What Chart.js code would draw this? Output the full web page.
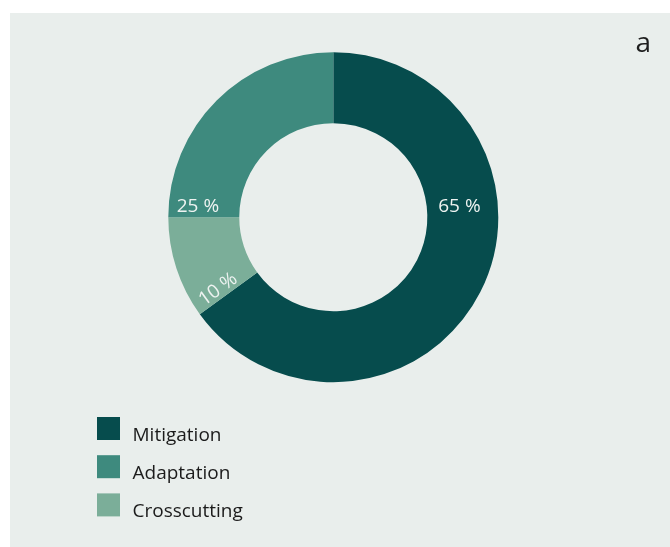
<!DOCTYPE html>
<html>
<head>
<meta charset="utf-8">
<script src="https://cdn.jsdelivr.net/npm/chart.js@4.4.0/dist/chart.umd.min.js"></script>
<style>
  html, body { margin: 0; padding: 0; background: #ffffff; }
  canvas { display: block; }
</style>
</head>
<body>
<canvas id="c" width="670" height="547"></canvas>
<script>
// Share of climate finance by theme (percent)
const categories = ['Mitigation', 'Adaptation', 'Crosscutting'];
const shares = [65, 25, 10];
const colours = ['#064c4d', '#3e8a7e', '#7bae99'];
// Order of the slices clockwise from twelve o'clock
const ringOrder = ['Mitigation', 'Crosscutting', 'Adaptation'];
const panelLetter = 'a';

const ringLabels = ringOrder;
const ringValues = ringOrder.map(n => shares[categories.indexOf(n)]);
const ringColours = ringOrder.map(n => colours[categories.indexOf(n)]);

const FONT = '"Open Sans", "Noto Sans", sans-serif';

// Light panel behind the chart
const panelPlugin = {
  id: 'panel',
  beforeDraw(chart) {
    const ctx = chart.ctx;
    ctx.save();
    ctx.fillStyle = '#e9eeec';
    ctx.fillRect(10, 13, chart.width - 10, chart.height - 13);
    ctx.restore();
  }
};

// Percent labels inside the ring; placement given as a fraction of the arc and of the ring width
const placement = {
  Mitigation:   { along: 0.3615, across: 0.46, rotate: false },
  Adaptation:   { along: 0.056,  across: 0.59, rotate: false },
  Crosscutting: { along: 0.125,  across: 0.59, rotate: true }
};
const sliceLabelPlugin = {
  id: 'sliceLabels',
  afterDatasetsDraw(chart) {
    const ctx = chart.ctx;
    const meta = chart.getDatasetMeta(0);
    const size = 19;
    ctx.save();
    ctx.font = size + 'px ' + FONT;
    ctx.fillStyle = '#eef3f1';
    ctx.textAlign = 'center';
    ctx.textBaseline = 'alphabetic';
    meta.data.forEach((arc, i) => {
      const name = ringLabels[i];
      const p = placement[name];
      const a = arc.startAngle + (arc.endAngle - arc.startAngle) * p.along;
      const r = arc.innerRadius + (arc.outerRadius - arc.innerRadius) * p.across;
      const x = arc.x + r * Math.cos(a);
      const y = arc.y + r * Math.sin(a);
      ctx.save();
      ctx.translate(x, y);
      if (p.rotate) ctx.rotate(arc.startAngle - Math.PI);
      ctx.fillText(ringValues[i] + ' %', 0, size * 0.36);
      ctx.restore();
    });
    ctx.restore();
  }
};

// Square-swatch legend in the lower left, plus the panel letter
const legendPlugin = {
  id: 'squareLegend',
  afterDraw(chart) {
    const ctx = chart.ctx;
    ctx.save();
    ctx.font = '19px ' + FONT;
    ctx.textAlign = 'left';
    ctx.textBaseline = 'alphabetic';
    categories.forEach((name, i) => {
      const top = 417 + i * 38.2;
      ctx.fillStyle = colours[i];
      ctx.fillRect(97, top, 23, 23);
      ctx.fillStyle = '#1b1b1b';
      ctx.fillText(name, 132.5, top + 23.5);
    });
    ctx.font = '28px ' + FONT;
    ctx.fillStyle = '#1e1e1e';
    ctx.fillText(panelLetter, 635.5, 52);
    ctx.restore();
  }
};

new Chart(document.getElementById('c'), {
  type: 'doughnut',
  data: {
    labels: ringLabels,
    datasets: [{
      data: ringValues,
      backgroundColor: ringColours,
      borderWidth: 0,
      hoverOffset: 0,
      spacing: 0
    }]
  },
  options: {
    responsive: false,
    animation: false,
    devicePixelRatio: 1,
    cutout: '57%',
    events: [],
    layout: { padding: { top: 52.2, bottom: 164.8, left: 0, right: 3.4 } },
    plugins: {
      legend: { display: false },
      tooltip: { enabled: false },
      title: { display: false }
    }
  },
  plugins: [panelPlugin, sliceLabelPlugin, legendPlugin]
});
</script>
</body>
</html>
